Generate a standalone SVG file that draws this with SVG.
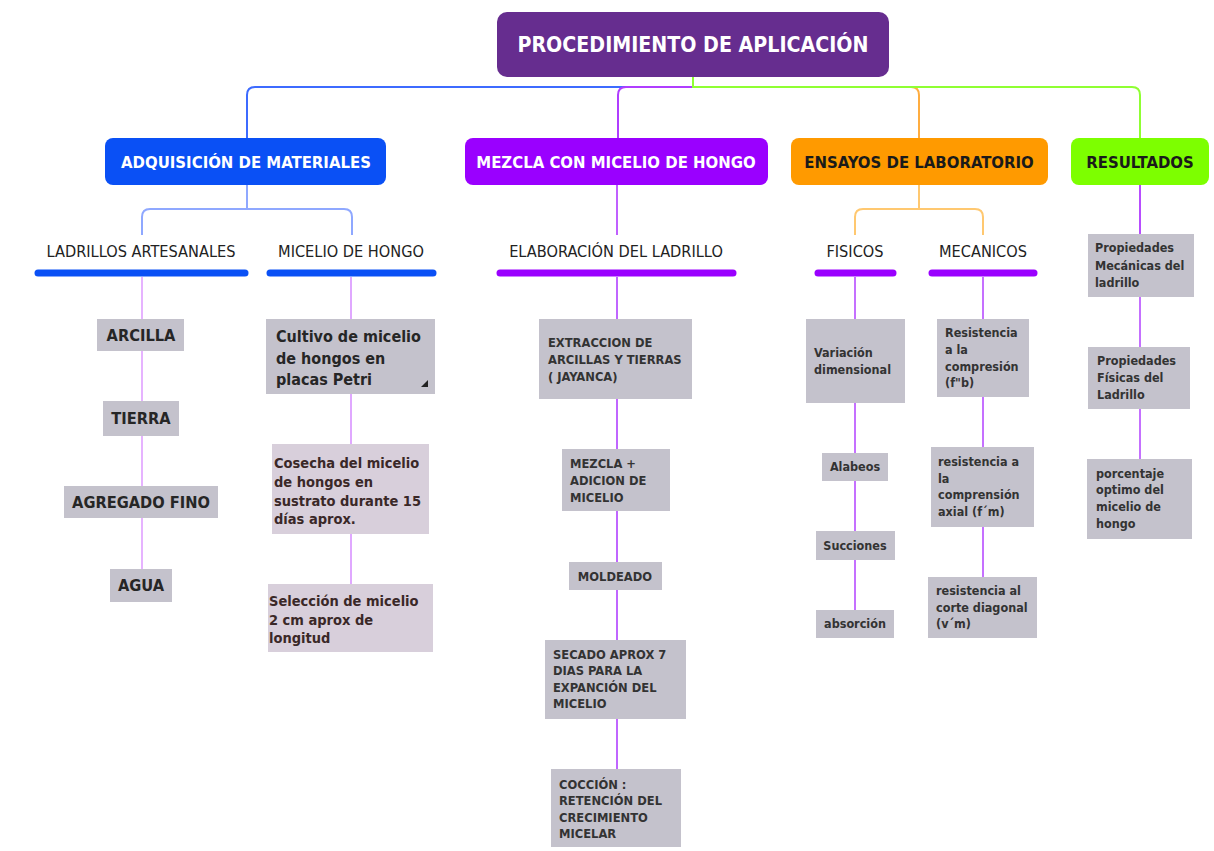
<svg xmlns="http://www.w3.org/2000/svg" width="1214" height="851" viewBox="0 0 1214 851">
<style>
text{font-family:"DejaVu Sans Condensed","DejaVu Sans",sans-serif;font-stretch:condensed}
.root{font-size:21.2px;font-weight:bold;fill:#fff;text-anchor:middle}
.l1w{font-size:16.6px;font-weight:bold;fill:#fff;text-anchor:middle}
.l1b{font-size:16.6px;font-weight:bold;fill:#1a1a1a;text-anchor:middle}
.lab{font-size:16.2px;fill:#222;text-anchor:middle}
.box{fill:#c4c2cc}
.pbox{fill:#d8cfdb}
.bt16{font-size:16px;font-weight:bold;fill:#262626}
.bt15{font-size:16.3px;font-weight:bold;fill:#262626;text-anchor:middle}
.ct{font-size:14.5px;font-weight:bold;fill:#3a2828}
.sm{font-size:12.8px;font-weight:bold;fill:#333}
.sm2{font-size:12.5px;font-weight:bold;fill:#333}
.mid{text-anchor:middle}
.c{fill:none;stroke-width:2}
.bar{stroke-width:7;stroke-linecap:round;fill:none}
</style>
<g id="connectors">
  <path class="c" stroke="#3d6bff" d="M693,87 H255 Q247,87 247,95 V138"/>
  <path class="c" stroke="#b03dff" d="M693,87 H626 Q618,87 618,95 V138"/>
  <path class="c" stroke="#ffad40" d="M693,87 H911 Q919,87 919,95 V138"/>
  <path class="c" stroke="#8fff33" d="M693,77 V87 H1132 Q1140,87 1140,95 V138"/>
  <path class="c" stroke="#8fa8ff" d="M247,185 V209 M142,235 V217 Q142,209 150,209 H344 Q352,209 352,217 V235"/>
  <path class="c" stroke="#c060ff" d="M617,185 V235"/>
  <path class="c" stroke="#ffc870" d="M919,185 V209 M855,235 V217 Q855,209 863,209 H975 Q983,209 983,217 V235"/>
  <path class="c" stroke="#b84dff" d="M1140,185 V234"/>
  <path class="c" stroke="#e6b3ff" d="M142,277 V319 M142,351 V401 M142,436 V486 M142,518 V569"/>
  <path class="c" stroke="#e0a8ff" d="M351,277 V319 M351,394 V444 M351,534 V584"/>
  <path class="c" stroke="#c066ff" d="M617,277 V319 M617,399 V449 M617,511 V562 M617,590 V640 M617,719 V769"/>
  <path class="c" stroke="#c570ff" d="M855,277 V319 M855,403 V453 M855,481 V531 M855,560 V610"/>
  <path class="c" stroke="#c570ff" d="M983,277 V319 M983,397 V447 M983,527 V577"/>
  <path class="c" stroke="#c570ff" d="M1140,297 V347 M1140,409 V459"/>
</g>
<g id="root">
  <rect x="497" y="12" width="392" height="65" rx="10" fill="#662d8f"/>
  <text class="root" x="693" y="52">PROCEDIMIENTO DE APLICACIÓN</text>
</g>
<g id="adquisicion">
  <rect x="105" y="138" width="281" height="47" rx="8" fill="#0a50f5"/>
  <text class="l1w" x="246" y="168">ADQUISICIÓN DE MATERIALES</text>
</g>
<g id="mezcla">
  <rect x="465" y="138" width="303" height="47" rx="8" fill="#9a00ff"/>
  <text class="l1w" x="616" y="168">MEZCLA CON MICELIO DE HONGO</text>
</g>
<g id="ensayos">
  <rect x="791" y="138" width="257" height="47" rx="8" fill="#ff9a00"/>
  <text class="l1b" x="919" y="168">ENSAYOS DE LABORATORIO</text>
</g>
<g id="resultados">
  <rect x="1071" y="138" width="138" height="47" rx="8" fill="#7dff00"/>
  <text class="l1b" x="1140" y="168">RESULTADOS</text>
</g>
<g id="ladrillos-artesanales">
  <text class="lab" x="141" y="257">LADRILLOS ARTESANALES</text>
  <path class="bar" stroke="#0a50f5" d="M38,273 H245"/>
</g>
<g id="micelio-de-hongo">
  <text class="lab" x="351" y="257">MICELIO DE HONGO</text>
  <path class="bar" stroke="#0a50f5" d="M270,273 H433"/>
</g>
<g id="elaboracion">
  <text class="lab" x="616" y="257">ELABORACIÓN DEL LADRILLO</text>
  <path class="bar" stroke="#9a00ff" d="M500,273 H733"/>
</g>
<g id="fisicos">
  <text class="lab" x="855" y="257">FISICOS</text>
  <path class="bar" stroke="#9a00ff" d="M818,273 H893"/>
</g>
<g id="mecanicos">
  <text class="lab" x="983" y="257">MECANICOS</text>
  <path class="bar" stroke="#9a00ff" d="M932,273 H1034"/>
</g>
<g id="arcilla"><rect class="box" x="97" y="319" width="87" height="32"/><text class="bt15" x="141" y="341">ARCILLA</text></g>
<g id="tierra"><rect class="box" x="103" y="401" width="76" height="35"/><text class="bt15" x="141" y="424">TIERRA</text></g>
<g id="agregado"><rect class="box" x="64" y="486" width="154" height="32"/><text class="bt15" x="141" y="508">AGREGADO FINO</text></g>
<g id="agua"><rect class="box" x="110" y="569" width="62" height="33"/><text class="bt15" x="141" y="591">AGUA</text></g>
<g id="cultivo">
  <rect class="box" x="266" y="319" width="169" height="75"/>
  <text class="bt16" x="276" y="342">Cultivo de micelio</text>
  <text class="bt16" x="276" y="364">de hongos en</text>
  <text class="bt16" x="276" y="385">placas Petri</text>
  <path d="M428,380 V387 H421 Z" fill="#222"/>
</g>
<g id="cosecha">
  <rect class="pbox" x="272" y="444" width="157" height="90"/>
  <text class="ct" x="274" y="468">Cosecha del micelio</text>
  <text class="ct" x="274" y="487">de hongos en</text>
  <text class="ct" x="274" y="506">sustrato durante 15</text>
  <text class="ct" x="274" y="524">días aprox.</text>
</g>
<g id="seleccion">
  <rect class="pbox" x="268" y="584" width="165" height="68"/>
  <text class="ct" x="269" y="606">Selección de micelio</text>
  <text class="ct" x="269" y="625">2 cm aprox de</text>
  <text class="ct" x="269" y="643">longitud</text>
</g>
<g id="extraccion">
  <rect class="box" x="539" y="319" width="153" height="80"/>
  <text class="sm" x="548" y="347">EXTRACCION DE</text>
  <text class="sm" x="548" y="364">ARCILLAS Y TIERRAS</text>
  <text class="sm" x="548" y="381">( JAYANCA)</text>
</g>
<g id="mezcla-adicion">
  <rect class="box" x="562" y="449" width="108" height="62"/>
  <text class="sm" x="570" y="468">MEZCLA +</text>
  <text class="sm" x="570" y="485">ADICION DE</text>
  <text class="sm" x="570" y="502">MICELIO</text>
</g>
<g id="moldeado">
  <rect class="box" x="569" y="562" width="93" height="28"/>
  <text class="sm mid" x="615" y="581">MOLDEADO</text>
</g>
<g id="secado">
  <rect class="box" x="545" y="640" width="141" height="79"/>
  <text class="sm" x="553" y="659">SECADO APROX 7</text>
  <text class="sm" x="553" y="675">DIAS PARA LA</text>
  <text class="sm" x="553" y="692">EXPANCIÓN DEL</text>
  <text class="sm" x="553" y="708">MICELIO</text>
</g>
<g id="coccion">
  <rect class="box" x="551" y="769" width="130" height="78"/>
  <text class="sm" x="559" y="789">COCCIÓN :</text>
  <text class="sm" x="559" y="805">RETENCIÓN DEL</text>
  <text class="sm" x="559" y="822">CRECIMIENTO</text>
  <text class="sm" x="559" y="838">MICELAR</text>
</g>
<g id="variacion">
  <rect class="box" x="806" y="319" width="99" height="84"/>
  <text class="sm2" x="814" y="357">Variación</text>
  <text class="sm2" x="814" y="374">dimensional</text>
</g>
<g id="alabeos"><rect class="box" x="822" y="453" width="66" height="28"/><text class="sm2 mid" x="855" y="471">Alabeos</text></g>
<g id="succiones"><rect class="box" x="816" y="531" width="79" height="29"/><text class="sm2 mid" x="855" y="550">Succiones</text></g>
<g id="absorcion"><rect class="box" x="816" y="610" width="78" height="28"/><text class="sm2 mid" x="855" y="628">absorción</text></g>
<g id="resistencia-compresion">
  <rect class="box" x="937" y="319" width="92" height="78"/>
  <text class="sm2" x="945" y="337">Resistencia</text>
  <text class="sm2" x="945" y="354">a la</text>
  <text class="sm2" x="945" y="371">compresión</text>
  <text class="sm2" x="945" y="387">(f"b)</text>
</g>
<g id="resistencia-axial">
  <rect class="box" x="931" y="447" width="103" height="80"/>
  <text class="sm2" x="938" y="466">resistencia a</text>
  <text class="sm2" x="938" y="483">la</text>
  <text class="sm2" x="938" y="499">comprensión</text>
  <text class="sm2" x="938" y="516">axial (f´m)</text>
</g>
<g id="resistencia-corte">
  <rect class="box" x="928" y="577" width="109" height="61"/>
  <text class="sm2" x="936" y="595">resistencia al</text>
  <text class="sm2" x="936" y="612">corte diagonal</text>
  <text class="sm2" x="936" y="628">(v´m)</text>
</g>
<g id="propiedades-mecanicas">
  <rect class="box" x="1088" y="234" width="106" height="63"/>
  <text class="sm2" x="1095" y="252">Propiedades</text>
  <text class="sm2" x="1095" y="270">Mecánicas del</text>
  <text class="sm2" x="1095" y="287">ladrillo</text>
</g>
<g id="propiedades-fisicas">
  <rect class="box" x="1088" y="347" width="102" height="62"/>
  <text class="sm2" x="1097" y="365">Propiedades</text>
  <text class="sm2" x="1097" y="382">Físicas del</text>
  <text class="sm2" x="1097" y="399">Ladrillo</text>
</g>
<g id="porcentaje">
  <rect class="box" x="1087" y="459" width="105" height="80"/>
  <text class="sm2" x="1096" y="478">porcentaje</text>
  <text class="sm2" x="1096" y="494">optimo del</text>
  <text class="sm2" x="1096" y="511">micelio de</text>
  <text class="sm2" x="1096" y="528">hongo</text>
</g>
</svg>
